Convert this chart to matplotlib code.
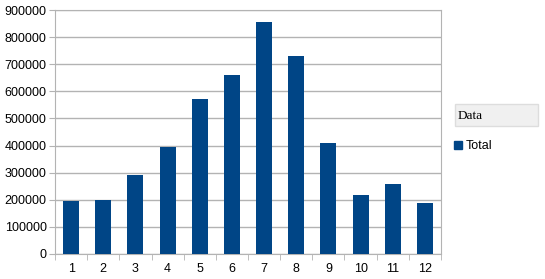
import matplotlib
matplotlib.use("Agg")
import matplotlib.pyplot as plt
from matplotlib.patches import Rectangle, Patch

months = [1, 2, 3, 4, 5, 6, 7, 8, 9, 10, 11, 12]
totals = [195000, 200000, 290000, 395000, 571000, 661000, 856000, 730000, 409000, 217000, 257000, 188000]
yticks = [0, 100000, 200000, 300000, 400000, 500000, 600000, 700000, 800000, 900000]

plt.rcParams.update({"font.family": "Liberation Sans", "font.size": 9})
bar_color = "#004586"
grid_color = "#b3b3b3"

fig = plt.figure(figsize=(5.45, 2.79), dpi=100)
ax = fig.add_axes([55 / 545, 1 - 254 / 279, 386 / 545, 244 / 279])

x = list(range(len(months)))
ax.bar(x, totals, width=0.5, color=bar_color, zorder=3, label="Total")
ax.set_xlim(-0.5, len(months) - 0.5)
ax.set_ylim(0, 900000)
ax.set_yticks(yticks)
ax.set_yticklabels([str(v) for v in yticks])
ax.set_xticks(x)
ax.set_xticklabels([str(m) for m in months])
ax.set_xticks([i - 0.5 for i in range(len(months) + 1)], minor=True)
ax.tick_params(axis="x", which="major", length=0, pad=6.5)
ax.tick_params(axis="x", which="minor", length=4, color=grid_color, direction="out")
ax.tick_params(axis="y", length=4, color=grid_color, pad=2)
ax.grid(axis="y", color=grid_color, linewidth=1, zorder=0)
for s in ax.spines.values():
    s.set_color(grid_color)

# legend
fig.patches.append(Rectangle((454.5 / 545, 1 - 126 / 279), 83 / 545, 22 / 279,
                             transform=fig.transFigure, facecolor="#f0f0f0",
                             edgecolor="#dddddd", linewidth=1))
fig.text(457.5 / 545, 1 - 116 / 279, "Data", family="Liberation Serif", fontsize=9.5, va="center")
fig.legend(handles=[Patch(color=bar_color)], labels=["Total"], loc="center left",
           bbox_to_anchor=(448 / 545, 1 - 146 / 279), frameon=False, borderpad=0,
           handlelength=0.6, handleheight=0.6, handletextpad=0.35, fontsize=9)

plt.savefig("out.png", dpi=100)
